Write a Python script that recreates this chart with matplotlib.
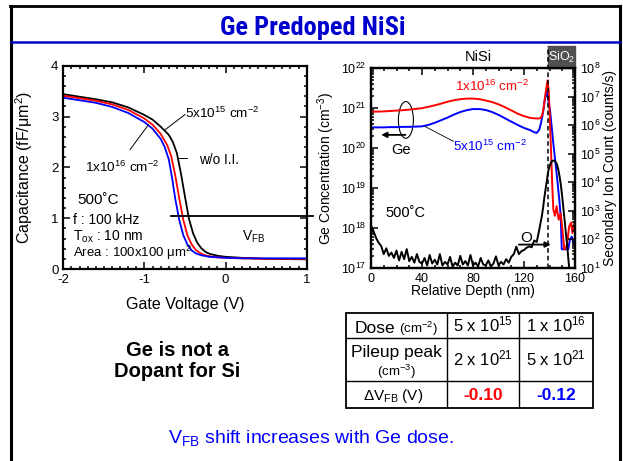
import numpy as np
import matplotlib.pyplot as plt
from matplotlib.lines import Line2D
from matplotlib.patches import Rectangle, Ellipse
from matplotlib.ticker import MultipleLocator, LogLocator, NullFormatter
import matplotlib.transforms as mtransforms

plt.rcParams['font.family'] = ['Liberation Sans', 'DejaVu Sans']
plt.rcParams['mathtext.fontset'] = 'custom'
plt.rcParams['mathtext.rm'] = 'Liberation Sans'
plt.rcParams['mathtext.it'] = 'Liberation Sans:italic'
plt.rcParams['mathtext.bf'] = 'Liberation Sans:bold'
plt.rcParams['axes.unicode_minus'] = False

# C-V curves (gate voltage in V, capacitance in fF/um^2)
v_noii = [-2.0, -1.8, -1.6, -1.4, -1.2, -1.0, -0.9, -0.8, -0.7, -0.65, -0.6, -0.55,
          -0.5, -0.45, -0.4, -0.35, -0.3, -0.25, -0.2, -0.1, 0.0, 0.2, 0.5, 1.0]
c_noii = [3.44, 3.39, 3.34, 3.28, 3.18, 3.03, 2.94, 2.80, 2.64, 2.50, 2.28, 1.88,
          1.42, 0.98, 0.70, 0.52, 0.41, 0.34, 0.30, 0.26, 0.24, 0.22, 0.20, 0.19]
v_5e15 = [-2.0, -1.8, -1.6, -1.4, -1.2, -1.0, -0.9, -0.8, -0.72, -0.67, -0.62, -0.57,
          -0.52, -0.47, -0.42, -0.37, -0.32, -0.27, -0.2, -0.1, 0.0, 0.2, 0.5, 1.0]
c_5e15 = [3.41, 3.36, 3.31, 3.24, 3.13, 2.96, 2.84, 2.66, 2.44, 2.22, 1.84, 1.38,
          0.96, 0.66, 0.49, 0.38, 0.32, 0.28, 0.25, 0.23, 0.22, 0.21, 0.20, 0.20]
v_1e16 = [-2.0, -1.8, -1.6, -1.4, -1.2, -1.0, -0.9, -0.8, -0.75, -0.7, -0.66, -0.62,
          -0.57, -0.52, -0.47, -0.42, -0.37, -0.3, -0.2, -0.1, 0.0, 0.2, 0.5, 1.0]
c_1e16 = [3.37, 3.32, 3.27, 3.19, 3.07, 2.89, 2.76, 2.56, 2.40, 2.16, 1.80, 1.38,
          0.96, 0.66, 0.48, 0.37, 0.31, 0.27, 0.24, 0.23, 0.22, 0.21, 0.21, 0.21]
v_fb_line = [-0.67, 1.08]
c_fb_line = [1.05, 1.05]

# SIMS depth profiles: Ge (cm^-3) and O (counts/s) vs relative depth (nm)
d_ge_hi = [0, 5, 10, 15, 20, 25, 30, 35, 40, 45, 50, 55, 60, 65, 70, 75, 80, 85, 90,
           95, 100, 105, 110, 115, 120, 125, 130, 133, 134.5, 135.5, 137, 138.5,
           139.5, 141, 142.2, 143, 144.3, 145.6, 147.2, 148.8, 150.4, 151.6, 153.5,
           155.5, 156.9, 158, 159.5]
ge_hi = [8.2e20, 8.2e20, 8.3e20, 8.5e20, 8.7e20, 8.9e20, 9.2e20, 9.6e20, 1.0e21,
         1.08e21, 1.18e21, 1.3e21, 1.45e21, 1.58e21, 1.68e21, 1.74e21, 1.74e21,
         1.68e21, 1.56e21, 1.42e21, 1.25e21, 1.06e21, 8.8e20, 7.3e20, 6.3e20, 5.7e20,
         5.5e20, 5.6e20, 7.0e20, 1.1e21, 2.5e21, 5.0e21, 2.4e21, 1.3e20, 1.1e19,
         2.9e18, 2.0e18, 3.5e18, 1.6e18, 2.3e18, 7.4e17, 2.9e17, 3.5e17, 1.1e18,
         1.35e18, 7.4e17, 1.3e18]
d_ge_lo = [0, 5, 10, 15, 20, 25, 30, 35, 40, 45, 50, 55, 60, 65, 70, 75, 80, 85, 90,
           95, 100, 105, 110, 115, 120, 125, 128, 130, 132, 133.5, 135, 136.5, 137.8,
           139, 140.4, 143, 145.6, 147.7, 148.8, 149.6, 154.7, 156, 157.4, 159]
ge_lo = [3.3e20, 3.3e20, 3.3e20, 3.35e20, 3.35e20, 3.4e20, 3.4e20, 3.45e20, 3.5e20,
         3.8e20, 4.3e20, 5.0e20, 5.8e20, 6.9e20, 8.0e20, 8.9e20, 9.5e20, 9.5e20,
         9.0e20, 8.0e20, 6.8e20, 5.6e20, 4.6e20, 3.8e20, 3.2e20, 2.8e20, 2.5e20,
         2.4e20, 2.9e20, 4.5e20, 8.0e20, 1.8e21, 2.6e21, 1.6e21, 9.0e20, 1.3e20,
         2.3e19, 5.0e18, 1.95e18, 2.9e17, 2.9e17, 5.0e17, 6.0e17, 4.0e17]
d_oxy = [0, 2, 4, 6, 8, 10, 12, 14, 16, 18, 20, 22, 24, 26, 28, 30, 32, 34, 36, 38,
         40, 42, 44, 46, 48, 50, 52, 54, 56, 58, 60, 62, 64, 66, 68, 70, 72, 74, 76,
         78, 80, 82, 84, 86, 88, 90, 92, 94, 96, 98, 100, 102, 104, 106, 108, 110,
         112, 114, 116, 118, 120, 122, 124, 126, 128, 130, 132, 133, 134, 135, 136,
         137, 138, 139, 140, 141, 142, 143, 144, 145, 146, 147, 148, 149, 150, 151,
         152, 153, 154, 155, 156]
oxy = [300, 190, 110, 75, 58, 30, 48, 26, 34, 22, 40, 18, 36, 20, 45, 17, 24, 15, 30,
       16, 14, 22, 12, 28, 14, 19, 13, 30, 12, 16, 13, 24, 11, 15, 12, 26, 13, 17, 12,
       28, 12, 15, 11, 22, 13, 12, 18, 11, 14, 25, 12, 16, 13, 20, 15, 24, 30, 55, 30,
       38, 42, 50, 56, 52, 90, 80, 220, 380, 650, 1300, 3000, 6000, 12000, 24000,
       36000, 47000, 55000, 58000, 56000, 50000, 40000, 27000, 15000, 7500, 3000,
       1100, 400, 140, 50, 16, 5]

# summary table
dose_text = ['5 x 10$^{15}$', '1 x 10$^{16}$']
pileup_text = ['2 x 10$^{21}$', '5 x 10$^{21}$']
dvfb = [-0.10, -0.12]
dvfb_colors = ['red', 'blue']

W, H = 623, 461
fig = plt.figure(figsize=(W / 100, H / 100), dpi=100)


def fx(x):
    return x / W


def fy(y):
    return 1 - y / H


# slide frame and title rule
for xs, ys, col, lw in [([11, 11], [6, 461], 'black', 2.2),
                        ([10, 620], [6.5, 6.5], 'black', 2.0),
                        ([620, 620], [6, 461], 'black', 2.2),
                        ([11, 620], [42.5, 42.5], '#0000c0', 1.8)]:
    fig.add_artist(Line2D([fx(x) for x in xs], [fy(y) for y in ys], color=col, lw=lw,
                          transform=fig.transFigure))

fig.text(fx(313), fy(35), 'Ge Predoped NiSi', ha='center', va='baseline', fontsize=19,
         fontweight='bold', fontstretch='condensed', color='#0000cc',
         family=['Liberation Sans Narrow', 'DejaVu Sans Condensed', 'Roboto Condensed',
                 'Liberation Sans'])

# ---- C-V plot ----
axL = fig.add_axes([fx(63.3), fy(269), (306.7 - 63.3) / W, (269 - 65.7) / H])
axL.plot(v_noii, c_noii, color='black', lw=1.3)
axL.plot(v_5e15, c_5e15, color='red', lw=1.3)
axL.plot(v_1e16, c_1e16, color='blue', lw=1.3)
axL.plot(v_fb_line, c_fb_line, color='black', lw=1.3, clip_on=False)
axL.set_xlim(-2, 1)
axL.set_ylim(0, 4)
axL.xaxis.set_major_locator(MultipleLocator(1))
axL.xaxis.set_minor_locator(MultipleLocator(0.1))
axL.yaxis.set_major_locator(MultipleLocator(1))
axL.yaxis.set_minor_locator(MultipleLocator(0.2))
axL.tick_params(which='both', direction='in', top=True, right=True, labelsize=9.5, width=1.1)
axL.tick_params(which='major', length=5)
axL.tick_params(which='minor', length=2.5)
for s in axL.spines.values():
    s.set_linewidth(1.6)
axL.set_xlabel('Gate Voltage (V)', fontsize=11.5)
axL.set_ylabel('Capacitance (fF/μm$^2$)', fontsize=11.5)
axL.xaxis.set_label_coords(0.5, -0.14)
axL.yaxis.set_label_coords(-0.116, 0.5)

axL.text(-0.5, 3.07, '5x10$^{15}$ cm$^{-2}$', fontsize=9.7, va='center')
axL.plot([-0.5, -0.745], [3.04, 2.74], color='black', lw=0.7)
axL.text(-0.333, 2.15, 'w/o I.I.', fontsize=9.8, va='center')
axL.plot([-0.477, -0.58], [2.18, 2.18], color='black', lw=0.7)
axL.text(-1.732, 1.99, '1x10$^{16}$ cm$^{-2}$', fontsize=9.7, va='center')
axL.plot([-1.177, -0.95], [2.35, 2.84], color='black', lw=0.7)
axL.text(-1.83, 1.36, '500˚C', fontsize=11, va='center')
axL.text(-1.877, 0.97, 'f : 100 kHz', fontsize=10, va='center')
axL.text(-1.877, 0.64, 'T$_\\mathregular{ox}$ : 10 nm', fontsize=10, va='center')
axL.text(-1.877, 0.31, 'Area : 100x100 μm$^2$', fontsize=9.5, va='center')
axL.text(0.34, 0.63, 'V$_\\mathregular{FB}$', fontsize=10, ha='center', va='center')

# ---- SIMS plot ----
axR = fig.add_axes([fx(371), fy(267.7), 204 / W, 199.4 / H])
axR.plot(d_ge_lo, ge_lo, color='blue', lw=1.4)
axR.plot(d_ge_hi, ge_hi, color='red', lw=1.4)
axR.set_yscale('log')
axR.set_xlim(0, 160)
axR.set_ylim(1e17, 1e22)
axR.xaxis.set_major_locator(MultipleLocator(40))
axR.xaxis.set_minor_locator(MultipleLocator(10))
axR.yaxis.set_major_locator(LogLocator(base=10, numticks=10))
axR.yaxis.set_minor_locator(LogLocator(base=10, subs=np.arange(2, 10), numticks=10))
axR.yaxis.set_minor_formatter(NullFormatter())
axR.tick_params(which='both', direction='in', top=True, right=False, labelsize=9, width=1.1)
axR.tick_params(which='major', length=5)
axR.tick_params(which='minor', length=2.5)
axR.set_xlabel('Relative Depth (nm)', fontsize=10)
axR.set_ylabel('Ge Concentration (cm$^{-3}$)', fontsize=10)
axR.xaxis.set_label_coords(0.5, -0.08)
axR.yaxis.set_label_coords(-0.168, 0.5)

axO = axR.twinx()
axO.plot(d_oxy, oxy, color='black', lw=1.4)
axO.set_yscale('log')
axO.set_ylim(1e1, 1e8)
axO.yaxis.set_major_locator(LogLocator(base=10, numticks=10))
axO.yaxis.set_minor_locator(LogLocator(base=10, subs=np.arange(2, 10), numticks=10))
axO.yaxis.set_minor_formatter(NullFormatter())
axO.tick_params(which='both', direction='in', labelsize=9, width=1.1)
axO.tick_params(which='major', length=5)
axO.tick_params(which='minor', length=2.5)
axO.set_ylabel('Secondary Ion Count (counts/s)', fontsize=10)
axO.yaxis.set_label_coords(1.139, 0.5)
for a in (axR, axO):
    for s in a.spines.values():
        s.set_linewidth(1.6)

# NiSi / SiO2 interface marker
tr = mtransforms.blended_transform_factory(axR.transData, axR.transAxes)
axR.add_patch(Rectangle((138.5, 1.0), 21.5, 0.11, transform=tr, color='#505050',
                        clip_on=False, zorder=3))
axR.text(149.5, 1.055, 'SiO$_2$', transform=tr, color='white', fontsize=9,
         ha='center', va='center', zorder=4)
axR.plot([138.5, 138.5], [0, 1.11], transform=tr, color='black', lw=1.1,
         ls=(0, (3, 2)), clip_on=False, zorder=5)
fig.text(fx(478), fy(57), 'NiSi', fontsize=10.5, ha='center', va='center')

axR.text(66, 3.5e21, '1x10$^{16}$ cm$^{-2}$', color='red', fontsize=9.6, va='center')
axR.text(64, 1.1e20, '5x10$^{15}$ cm$^{-2}$', color='blue', fontsize=9.6, va='center')
axR.plot([64.6, 42.4], [1.48e20, 3.47e20], color='black', lw=0.6)
axR.add_patch(Ellipse((0.171, 0.741), 0.0735, 0.184, transform=axR.transAxes,
                      fill=False, lw=0.8, color='black'))
axR.annotate('', xy=(8.0, 2.14e20), xytext=(27, 2.14e20),
             arrowprops=dict(arrowstyle='-|>', lw=1.3, color='black',
                             mutation_scale=8, shrinkA=0, shrinkB=0))
axR.text(23.5, 9.1e19, 'Ge', fontsize=10.5, ha='center', va='center')
axR.text(11, 2.3e18, '500˚C', fontsize=10.5, va='center')
axR.text(122, 5.6e17, 'O', fontsize=11, ha='center', va='center')
axR.annotate('', xy=(141, 3.8e17), xytext=(116, 3.8e17),
             arrowprops=dict(arrowstyle='-|>', lw=1.3, color='black',
                             mutation_scale=8, shrinkA=0, shrinkB=0))

# ---- bottom notes ----
fig.text(fx(177), fy(361), 'Ge is not a\nDopant for Si', ha='center', va='center',
         fontsize=14.5, fontweight='bold', linespacing=1.1)
fig.text(fx(311), fy(438), 'V$_\\mathregular{FB}$ shift increases with Ge dose.',
         ha='center', va='center', fontsize=14, color='blue')

# ---- table ----
tax = fig.add_axes([fx(346), fy(408.3), 247.3 / W, 95 / H])
tax.set_xlim(0, 1)
tax.set_ylim(0, 1)
tax.axis('off')
tax.add_patch(Rectangle((0, 0), 1, 1, fill=False, lw=1.3, color='black', clip_on=False))
for xv in (0.407, 0.70):
    tax.plot([xv, xv], [0, 1], color='black', lw=1.0)
for yv in (0.737, 0.287):
    tax.plot([0, 1], [yv, yv], color='black', lw=1.0)

tax.text(0.036, 0.789, 'Dose', fontsize=12.5, va='baseline')
tax.text(0.215, 0.789, '(cm$^{-2}$)', fontsize=9.5, va='baseline')
tax.text(0.202, 0.543, 'Pileup peak', fontsize=12.5, ha='center', va='baseline')
tax.text(0.202, 0.34, '(cm$^{-3}$)', fontsize=9.5, ha='center', va='baseline')
tax.text(0.19, 0.087, 'ΔV$_\\mathregular{FB}$ (V)', fontsize=11, ha='center', va='baseline')

col_x = [0.5535, 0.85]
for i in range(2):
    tax.text(col_x[i], 0.806, dose_text[i], fontsize=12, ha='center', va='baseline')
    tax.text(col_x[i], 0.456, pileup_text[i], fontsize=12, ha='center', va='baseline')
    tax.text(col_x[i], 0.087, f'{dvfb[i]:.2f}', fontsize=12.5, fontweight='bold',
             color=dvfb_colors[i], ha='center', va='baseline')

fig.savefig('out.png', dpi=100)
